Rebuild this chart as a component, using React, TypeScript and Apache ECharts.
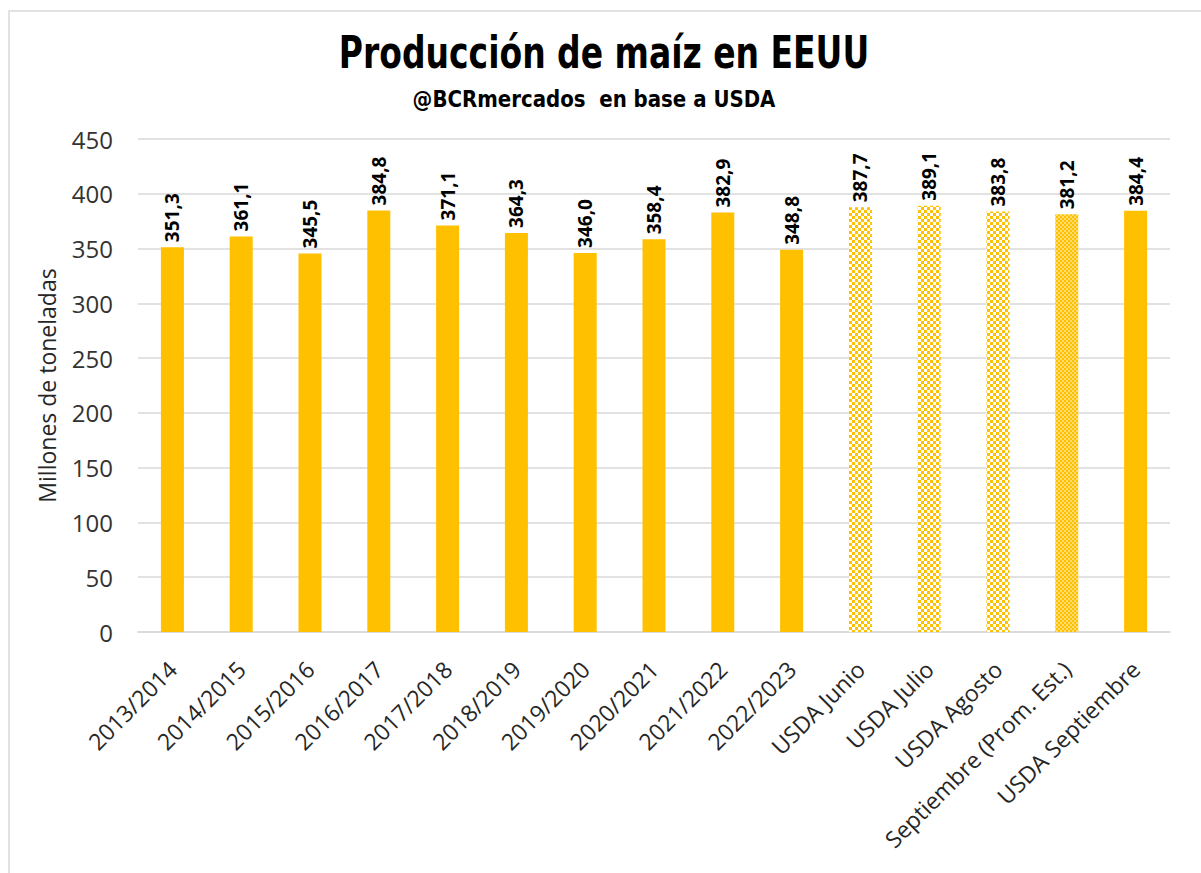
import React, { useEffect, useRef } from "react";
import * as echarts from "echarts";

const categories = [
  "2013/2014", "2014/2015", "2015/2016", "2016/2017", "2017/2018",
  "2018/2019", "2019/2020", "2020/2021", "2021/2022", "2022/2023",
  "USDA Junio", "USDA Julio", "USDA Agosto", "Septiembre (Prom. Est.)", "USDA Septiembre",
];
const values = [351.3, 361.1, 345.5, 384.8, 371.1, 364.3, 346.0, 358.4, 382.9, 348.8, 387.7, 389.1, 383.8, 381.2, 384.4];
// fill style per bar: "solid", "check" (coarse checker), "fine" (fine checker)
const fills = ["solid", "solid", "solid", "solid", "solid", "solid", "solid", "solid", "solid", "solid", "check", "check", "check", "fine", "solid"];
const yTicks = { min: 0, max: 450, interval: 50 };
const titleText = "Producción de maíz en EEUU";
const subtitleText = "@BCRmercados  en base a USDA";

const ORANGE = "#FFC000";

function checker(size: number, a: string, b: string) {
  const c = document.createElement("canvas");
  c.width = size * 2;
  c.height = size * 2;
  const ctx = c.getContext("2d")!;
  ctx.fillStyle = b;
  ctx.fillRect(0, 0, size * 2, size * 2);
  ctx.fillStyle = a;
  ctx.fillRect(0, 0, size, size);
  ctx.fillRect(size, size, size, size);
  return c;
}

export default function App() {
  const ref = useRef<HTMLDivElement>(null);
  useEffect(() => {
    document.body.style.margin = "0";
    const chart = echarts.init(ref.current!, null, { renderer: "svg" });
    const coarse = { image: checker(3, ORANGE, "#FFFFFF"), repeat: "repeat" };
    const fine = { image: checker(2, "#FFC000", "#FFDC70"), repeat: "repeat" };
    const data = values.map((v, i) => ({
      value: v,
      itemStyle: {
        color: fills[i] === "solid" ? ORANGE : fills[i] === "check" ? coarse : fine,
      },
    }));
    chart.setOption({
      animation: false,
      backgroundColor: "#ffffff",
      graphic: [
        {
          type: "rect",
          shape: { x: 9, y: 11, width: 1200, height: 870 },
          style: { fill: "none", stroke: "#d9d9d9", lineWidth: 1.5 },
          silent: true,
        },
        {
          type: "text",
          x: 604,
          y: 53,
          scaleX: 0.75,
          silent: true,
          style: {
            text: titleText,
            fill: "#000",
            fontFamily: "'DejaVu Sans', sans-serif",
            fontWeight: "bold",
            fontSize: 44,
            align: "center",
            verticalAlign: "middle",
          },
        },
        {
          type: "text",
          x: 594,
          y: 99,
          scaleX: 0.86,
          silent: true,
          style: {
            text: subtitleText,
            fill: "#000",
            fontFamily: "'DejaVu Sans', sans-serif",
            fontWeight: "bold",
            fontSize: 23,
            align: "center",
            verticalAlign: "middle",
          },
        },
      ],
      grid: { left: 138, right: 31, top: 139, bottom: 241, containLabel: false },
      xAxis: {
        type: "category",
        data: categories,
        axisLine: { show: true, lineStyle: { color: "#d9d9d9", width: 1.5 } },
        axisTick: { show: false },
        axisLabel: {
          interval: 0,
          rotate: 45,
          margin: 33,
          fontFamily: "'Open Sans', 'Noto Sans', sans-serif",
          fontSize: 23,
          color: "#262626",
        },
      },
      yAxis: {
        type: "value",
        min: yTicks.min,
        max: yTicks.max,
        interval: yTicks.interval,
        name: "Millones de toneladas",
        nameLocation: "middle",
        nameGap: 80,
        nameTextStyle: {
          fontFamily: "'Open Sans', 'Noto Sans', sans-serif",
          fontSize: 23,
          color: "#262626",
        },
        axisLine: { show: false },
        axisTick: { show: false },
        splitLine: { lineStyle: { color: "#d9d9d9", width: 1.5 } },
        axisLabel: {
          margin: 25,
          fontFamily: "'Open Sans', 'Noto Sans', sans-serif",
          fontSize: 24,
          color: "#333",
        },
      },
      series: [
        {
          type: "bar",
          data,
          barWidth: 23,
          label: {
            show: true,
            position: "top",
            rotate: 90,
            align: "left",
            verticalAlign: "middle",
            distance: 5,
            formatter: (p: any) => p.value.toFixed(1).replace(".", ","),
            fontFamily: "'Open Sans', 'Noto Sans', sans-serif",
            fontWeight: "bold",
            fontSize: 19,
            color: "#000",
          },
        },
      ],
    });
    return () => chart.dispose();
  }, []);
  return <div ref={ref} style={{ width: 1201, height: 873 }} />;
}
